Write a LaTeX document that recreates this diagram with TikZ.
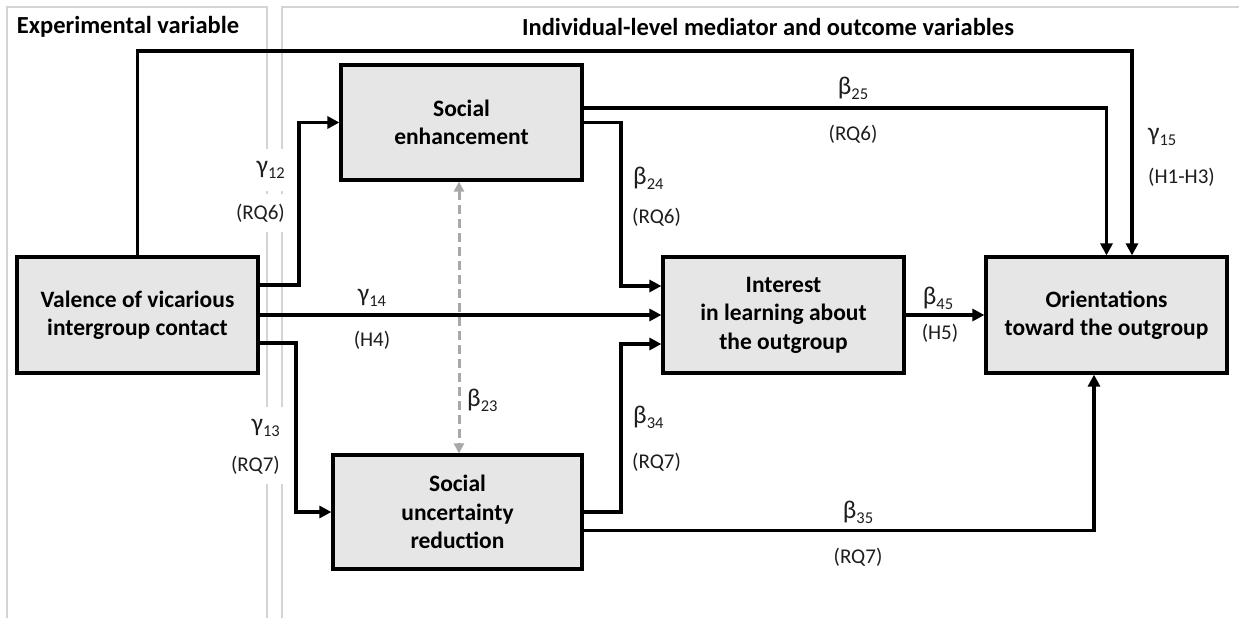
\documentclass[tikz,border=0pt]{standalone}
\usepackage{fontspec}
\setmainfont{Carlito}
\usetikzlibrary{calc, positioning}
\usetikzlibrary{arrows.meta}

\definecolor{boxgray}{HTML}{E6E6E6}
\definecolor{panelgray}{HTML}{D4D4D4}
\definecolor{dashgray}{HTML}{A8A8A8}
\definecolor{labelgray}{HTML}{1E1E1E}

\newcommand{\coef}[2]{#1\raisebox{-0.4ex}{\fontsize{16.5}{16.5}\selectfont #2}}

\tikzset{
  var/.style={draw, line width=3.2pt, fill=boxgray, align=center, inner sep=0pt,
    font=\bfseries\fontsize{23.5}{28.5}\selectfont},
  link/.style={line width=3.2pt, -{Triangle[length=12pt, width=12pt]}},
  corr/.style={line width=3pt, dashgray, dash pattern=on 9pt off 5pt,
    {Triangle[length=10pt, width=10pt]}-{Triangle[length=10pt, width=10pt]}},
  panel/.style={draw=panelgray, line width=1.2pt},
  heading/.style={font=\bfseries\fontsize{24.5}{28}\selectfont},
  cf/.style={fill=white, inner xsep=3pt, inner ysep=12pt, text=labelgray,
    font=\fontsize{25.5}{25.5}\selectfont},
  hyp/.style={fill=white, inner xsep=3pt, inner ysep=10pt, text=labelgray,
    font=\fontsize{21}{21}\selectfont}
}

\begin{document}
\begin{tikzpicture}[x=1pt, y=-1pt]
\useasboundingbox (0,0) rectangle (1239,618);

\draw[panel] (7,7) rectangle (267,650);
\draw[panel] (282,7) rectangle (1270,650);
\node[heading] (headLeft) at (128,27) {Experimental variable};
\node[heading] (headRight) at (768,27) {Individual-level mediator and outcome variables};

\node[var, minimum width=241pt, minimum height=116pt] (valence) at (137.5,315) {Valence of vicarious\\intergroup contact};
\node[var, minimum width=241pt, minimum height=115pt] (enhance) at (461.5,122.5) {Social\\enhancement};
\node[var, minimum width=249pt, minimum height=114pt] (uncert) at (457.5,512) {Social\\uncertainty\\reduction};
\node[var, minimum width=241pt, minimum height=116pt] (interest) at (783.5,315) {Interest\\in learning about\\the outgroup};
\node[var, minimum width=241pt, minimum height=116pt] (orient) at (1106.5,315) {Orientations\\toward the outgroup};

% coefficients
\node[cf, anchor=east] (g12) at (288,170) {\coef{γ}{12}};
\node[hyp, anchor=east] (h12) at (288,213) {(RQ6)};
\node[cf, anchor=east] (g13) at (283,428) {\coef{γ}{13}};
\node[hyp, anchor=east] (h13) at (283,465) {(RQ7)};
\node[cf] (g14) at (372,298) {\coef{γ}{14}};
\node[hyp] (h14) at (372,340) {(H4)};
\node[cf, anchor=west] (g15) at (1145,137) {\coef{γ}{15}};
\node[hyp, anchor=west] (h15) at (1145,177) {(H1-H3)};
\node[cf] (b25) at (853,88) {\coef{β}{25}};
\node[hyp] (h25) at (853,134) {(RQ6)};
\node[cf, anchor=west] (b24) at (630,178) {\coef{β}{24}};
\node[hyp, anchor=west] (h24) at (629,217) {(RQ6)};
\node[cf, anchor=west] (b34) at (630,417) {\coef{β}{34}};
\node[hyp, anchor=west] (h34) at (629,462) {(RQ7)};
\node[cf, anchor=west] (b23) at (464,400) {\coef{β}{23}};
\node[cf] (b45) at (938,298) {\coef{β}{45}};
\node[hyp] (h45) at (940,333) {(H5)};
\node[cf] (b35) at (858,512) {\coef{β}{35}};
\node[hyp] (h35) at (858,557) {(RQ7)};

% connectors
\coordinate (top15) at (1132,51);
\coordinate (bend12) at (299,200);
\coordinate (bend13) at (296,430);
\coordinate (bend24) at (621,200);
\coordinate (bend34) at (621,430);

\draw[link] (valence.north) |- (top15) -- ($(orient.north)+(25.5,0)$);
\draw[link] ($(valence.east)+(0,-30)$) -| (bend12) |- (enhance.west);
\draw[link] (valence.east) -- (interest.west);
\draw[link] ($(valence.east)+(0,28)$) -| (bend13) |- (uncert.west);
\draw[link] ($(enhance.east)+(0,-14.5)$) -| (orient.north);
\draw[link] (enhance.east) -| (bend24) |- ($(interest.west)+(0,-29)$);
\draw[link] (uncert.east) -| (bend34) |- ($(interest.west)+(0,29)$);
\draw[link] ($(uncert.east)+(0,18.5)$) -| ($(orient.south)+(-12.5,0)$);
\draw[link] (interest.east) -- (orient.west);
\draw[corr] ($(enhance.south)+(-2.5,0)$) -- ($(uncert.north)+(1.5,0)$);

\end{tikzpicture}
\end{document}
